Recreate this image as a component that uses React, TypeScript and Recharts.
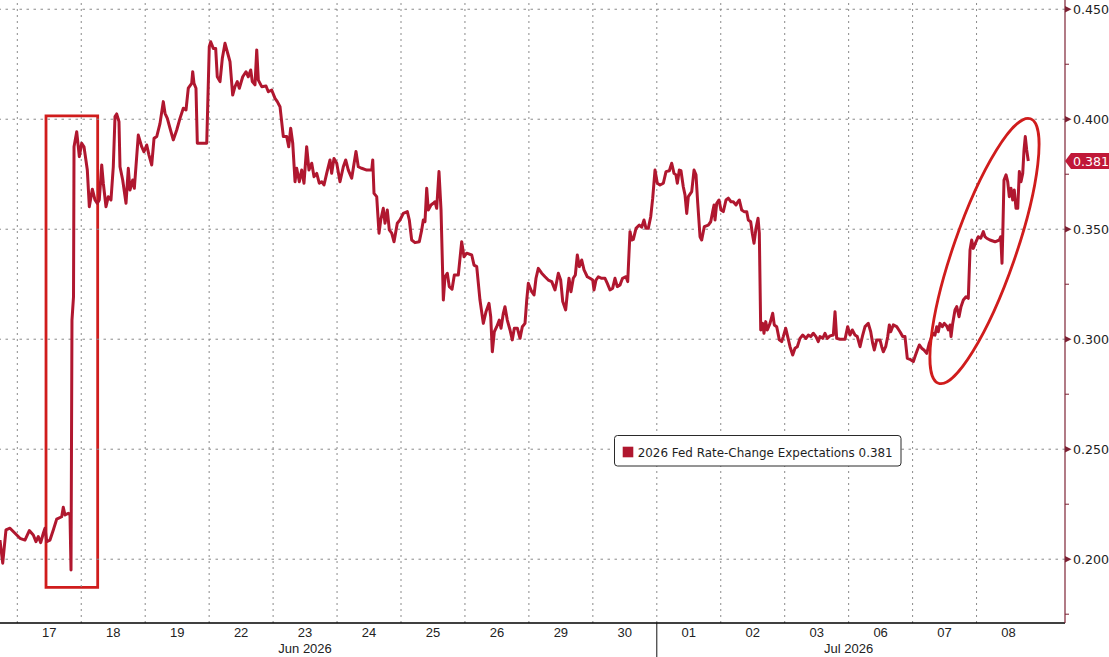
import React from 'react';
import {
  LineChart,
  Line,
  XAxis,
  YAxis,
  ReferenceLine,
  ReferenceArea,
  ReferenceDot,
  Legend,
} from 'recharts';

// ---------- categories / tick labels ----------
const dayLabels = ['17', '18', '19', '22', '23', '24', '25', '26', '29', '30', '01', '02', '03', '06', '07', '08'];
const monthLabels = ['Jun 2026', 'Jul 2026'];
const monthCenters = [4.5, 13]; // trading-day units
const yMajorTicks = [0.2, 0.25, 0.3, 0.35, 0.4, 0.45];
const yMinorTicks = [0.175, 0.225, 0.275, 0.325, 0.375, 0.425];
const seriesName = '2026 Fed Rate-Change Expectations';

// ---------- series: time in trading days since 17 Jun open ----------
const junTimes = [
  -0.271, -0.228, -0.177, -0.114, -0.036, 0.042, 0.12, 0.188, 0.25, 0.292, 0.328, 0.366, 0.407, 0.433, 0.46, 0.511,
  0.563, 0.616, 0.694, 0.719, 0.746, 0.798, 0.824, 0.84, 0.855, 0.879, 0.887, 0.929, 0.97, 1.007, 1.043, 1.095,
  1.126, 1.173, 1.215, 1.251, 1.282, 1.32, 1.345, 1.387, 1.423, 1.465, 1.501, 1.528, 1.554, 1.59, 1.606, 1.648,
  1.7, 1.736, 1.762, 1.805, 1.83, 1.892, 1.945, 1.981, 2.024, 2.059, 2.102, 2.138, 2.18, 2.231, 2.283, 2.31,
  2.346, 2.388, 2.439, 2.493, 2.544, 2.596, 2.638, 2.674, 2.727, 2.743, 2.763, 2.794, 2.815, 2.962, 3.002, 3.024,
  3.065, 3.102, 3.127, 3.17, 3.206, 3.248, 3.29, 3.326, 3.368, 3.404, 3.44, 3.472, 3.525, 3.576, 3.612, 3.65,
  3.675, 3.717, 3.744, 3.769, 3.822, 3.889, 3.925, 3.978, 4.03, 4.066, 4.108, 4.16, 4.213, 4.244, 4.275, 4.307,
  4.343, 4.369, 4.41, 4.447, 4.483, 4.525, 4.561, 4.604, 4.64, 4.682, 4.722, 4.76, 4.796, 4.838, 4.89, 4.916,
  4.952, 4.995, 5.046, 5.098, 5.135, 5.176, 5.229, 5.296, 5.332, 5.386, 5.464, 5.542, 5.558, 5.578, 5.62, 5.656,
  5.683, 5.723, 5.75, 5.786, 5.817, 5.855, 5.891, 5.942, 5.984, 6.036, 6.099, 6.13, 6.167, 6.219, 6.286, 6.324,
  6.349, 6.375, 6.402, 6.427, 6.469, 6.505, 6.532, 6.558, 6.594, 6.626, 6.662, 6.688, 6.724, 6.755, 6.798, 6.834,
  6.896, 6.949, 6.985, 7.027, 7.106, 7.142, 7.184, 7.235, 7.287, 7.329, 7.376, 7.403, 7.428, 7.459, 7.497, 7.537,
  7.564, 7.6, 7.626, 7.662, 7.705, 7.74, 7.772, 7.819, 7.861, 7.897, 7.939, 7.966, 7.991, 8.044, 8.08, 8.111,
  8.147, 8.2, 8.252, 8.303, 8.357, 8.408, 8.435, 8.46, 8.497, 8.529, 8.575, 8.601, 8.627, 8.658, 8.694, 8.726,
  8.757, 8.788, 8.826, 8.862, 8.913, 8.955, 8.998, 9.018, 9.049, 9.085, 9.138, 9.19, 9.226, 9.268, 9.31, 9.346,
  9.382, 9.425, 9.464, 9.518, 9.545, 9.581, 9.608, 9.633, 9.675, 9.726, 9.764, 9.8, 9.831, 9.867, 9.905, 9.936,
  9.972,
];
const junValues = [
  0.2087, 0.1982, 0.2133, 0.2141, 0.2118, 0.2095, 0.2087, 0.213, 0.211, 0.208, 0.2103, 0.2075, 0.2118, 0.2141, 0.208, 0.2087,
  0.2133, 0.2182, 0.2193, 0.2236, 0.2201, 0.2209, 0.2201, 0.1951, 0.3087, 0.3193, 0.3875, 0.3943, 0.383, 0.3891, 0.3875, 0.3769,
  0.3602, 0.3682, 0.3633, 0.3618, 0.3633, 0.3792, 0.3709, 0.3602, 0.3648, 0.3633, 0.3784, 0.4012, 0.4024, 0.3989, 0.3784, 0.3724,
  0.3618, 0.3777, 0.3678, 0.3724, 0.3686, 0.3928, 0.3875, 0.3852, 0.3883, 0.3837, 0.3792, 0.3913, 0.3921, 0.398, 0.408, 0.4027,
  0.4004, 0.3959, 0.3906, 0.3951, 0.4004, 0.405, 0.4042, 0.4141, 0.4163, 0.4216, 0.4163, 0.4141, 0.3891, 0.3891, 0.433, 0.4352,
  0.4322, 0.4322, 0.4193, 0.4171, 0.4277, 0.4345, 0.43, 0.4262, 0.411, 0.4148, 0.4171, 0.4141, 0.4193, 0.4216, 0.4193, 0.4224,
  0.4171, 0.4156, 0.4315, 0.4178, 0.4148, 0.4151, 0.4125, 0.4133, 0.4095, 0.408, 0.4057, 0.3921, 0.3921, 0.3875, 0.3959, 0.3891,
  0.3716, 0.3777, 0.3716, 0.3769, 0.3709, 0.3875, 0.3769, 0.38, 0.3739, 0.3754, 0.3709, 0.3716, 0.3701, 0.3754, 0.3815, 0.3754,
  0.3822, 0.38, 0.3716, 0.3784, 0.3815, 0.3769, 0.3732, 0.3853, 0.3784, 0.3777, 0.3769, 0.3769, 0.3815, 0.3663, 0.3648, 0.3482,
  0.3542, 0.3595, 0.3527, 0.3587, 0.3497, 0.3482, 0.3443, 0.3527, 0.3542, 0.3572, 0.358, 0.3542, 0.3451, 0.3439, 0.3443, 0.3497,
  0.3542, 0.3534, 0.3686, 0.3587, 0.361, 0.3618, 0.3625, 0.3595, 0.3762, 0.3587, 0.3178, 0.3284, 0.33, 0.3239, 0.3227, 0.3292,
  0.3292, 0.3443, 0.3375, 0.3391, 0.3383, 0.3337, 0.333, 0.3178, 0.3072, 0.3125, 0.3163, 0.3102, 0.2943, 0.3034, 0.3057, 0.3087,
  0.305, 0.3118, 0.3148, 0.3087, 0.3042, 0.2997, 0.305, 0.305, 0.3004, 0.3057, 0.3072, 0.3178, 0.3254, 0.3216, 0.3201, 0.3277,
  0.3322, 0.33, 0.3284, 0.3269, 0.3262, 0.3224, 0.3262, 0.33, 0.3269, 0.3171, 0.3133, 0.3209, 0.3277, 0.3216, 0.3277, 0.3292,
  0.3383, 0.333, 0.336, 0.3315, 0.3284, 0.3277, 0.3269, 0.3224, 0.3269, 0.3284, 0.3277, 0.3277, 0.3254, 0.3224, 0.3232, 0.3277,
  0.3239, 0.3247, 0.3277, 0.3284, 0.3262, 0.3489, 0.3451, 0.3454, 0.3504, 0.3519, 0.3509, 0.3542, 0.3504, 0.3504, 0.3557, 0.3641,
  0.3769,
];
const julTimes = [
  10.008, 10.05, 10.102, 10.144, 10.196, 10.233, 10.269, 10.3, 10.321, 10.352, 10.378, 10.414, 10.441, 10.468, 10.493, 10.546,
  10.582, 10.613, 10.64, 10.676, 10.702, 10.743, 10.805, 10.843, 10.874, 10.895, 10.91, 10.937, 10.973, 11.004, 11.04, 11.082,
  11.118, 11.16, 11.196, 11.239, 11.259, 11.29, 11.328, 11.364, 11.406, 11.431, 11.468, 11.493, 11.52, 11.551, 11.583, 11.603,
  11.625, 11.656, 11.676, 11.703, 11.728, 11.77, 11.812, 11.837, 11.875, 11.916, 11.953, 11.978, 12.016, 12.041, 12.083, 12.125,
  12.161, 12.197, 12.239, 12.282, 12.333, 12.369, 12.407, 12.447, 12.489, 12.525, 12.552, 12.594, 12.63, 12.666, 12.708, 12.76,
  12.787, 12.813, 12.865, 12.943, 12.985, 13.021, 13.057, 13.099, 13.135, 13.178, 13.22, 13.256, 13.307, 13.345, 13.376, 13.401,
  13.439, 13.49, 13.517, 13.542, 13.579, 13.611, 13.636, 13.658, 13.698, 13.751, 13.803, 13.845, 13.881, 13.917, 13.959, 14.011,
  14.038, 14.074, 14.105, 14.142, 14.178, 14.221, 14.261, 14.299, 14.324, 14.35, 14.377, 14.402, 14.428, 14.464, 14.496, 14.533,
  14.558, 14.585, 14.601, 14.627, 14.663, 14.69, 14.726, 14.757, 14.793, 14.835, 14.871, 14.898, 14.924, 14.949, 14.991, 15.027,
  15.065, 15.106, 15.132, 15.159, 15.21, 15.289, 15.356, 15.378, 15.398, 15.409, 15.429, 15.461, 15.487, 15.512, 15.539, 15.565,
  15.59, 15.617, 15.644, 15.669, 15.695, 15.722, 15.742, 15.762, 15.784, 15.809,
];
const julValues = [
  0.3709, 0.3701, 0.3709, 0.3762, 0.3766, 0.38, 0.3754, 0.3747, 0.3709, 0.3769, 0.3766, 0.3693, 0.3656, 0.3572, 0.3648, 0.3671,
  0.3769, 0.3747, 0.3618, 0.3466, 0.3451, 0.3512, 0.3519, 0.3534, 0.358, 0.361, 0.3542, 0.3618, 0.3633, 0.3587, 0.358, 0.3633,
  0.3641, 0.3625, 0.3625, 0.361, 0.3621, 0.3633, 0.3587, 0.358, 0.358, 0.3542, 0.3534, 0.3482, 0.3436, 0.3504, 0.355, 0.3482,
  0.3042, 0.3072, 0.3027, 0.308, 0.3042, 0.3072, 0.3118, 0.3065, 0.3057, 0.2997, 0.2989, 0.3012, 0.305, 0.3019, 0.2966, 0.2928,
  0.2959, 0.2966, 0.3004, 0.3019, 0.3004, 0.3019, 0.3012, 0.3027, 0.3012, 0.2989, 0.3012, 0.3004, 0.3027, 0.3004, 0.3015, 0.3019,
  0.3125, 0.3004, 0.3, 0.3, 0.3057, 0.3019, 0.3042, 0.3019, 0.3012, 0.2966, 0.3019, 0.3057, 0.3072, 0.3034, 0.2981, 0.2951,
  0.2997, 0.2997, 0.2966, 0.2943, 0.2966, 0.3012, 0.3065, 0.3034, 0.3065, 0.3057, 0.3034, 0.3012, 0.3012, 0.2913, 0.2909, 0.2898,
  0.2921, 0.2951, 0.2974, 0.2959, 0.2951, 0.2936, 0.2982, 0.3012, 0.3027, 0.3019, 0.3057, 0.3034, 0.3072, 0.3057, 0.3072, 0.306,
  0.3042, 0.3065, 0.3012, 0.3072, 0.3133, 0.3148, 0.3102, 0.3148, 0.3178, 0.3193, 0.3186, 0.3406, 0.3451, 0.3413, 0.3443, 0.3466,
  0.3459, 0.3489, 0.3466, 0.3459, 0.3451, 0.3443, 0.3451, 0.3466, 0.3345, 0.3466, 0.3724, 0.3747, 0.3716, 0.3648, 0.3686, 0.3633,
  0.3678, 0.3595, 0.3595, 0.3762, 0.3716, 0.3754, 0.386, 0.3921, 0.386, 0.381,
];

// annotations (data units)
const boxHighlight = { t1: 0.449, t2: 1.257, v1: 0.1872, v2: 0.4015 };
const ellipseCenter = { t: 15.124, v: 0.3401 };

// ---------- derived ----------
const data = [
  ...junTimes.map((t, i) => ({ t, v: junValues[i] })),
  ...julTimes.map((t, i) => ({ t, v: julValues[i] })),
];
const lastValue = julValues[julValues.length - 1];
const dayCenters = dayLabels.map((_, i) => i + 0.5);
const dayBoundaries = dayLabels.map((_, i) => i);
const monthSeparator = dayLabels.indexOf('01');
const yTicks = [...yMajorTicks, ...yMinorTicks, lastValue].sort((a, b) => a - b);

const X_DOMAIN: [number, number] = [-0.2705, 16.383];
const Y_DOMAIN: [number, number] = [0.171, 0.4542];

const LINE = '#b0172f';
const ANNOT = '#d01c1c';
const AXIS_RED = '#7d2234';
const TAG = '#c01838';
const GRID = '#8a8a8a';
const FONT = "'DejaVu Sans', Verdana, sans-serif";
const XFONT = "'Liberation Sans', Arial, sans-serif";

function DayTick(props: any) {
  const { x, y, payload } = props;
  const v = payload.value;
  if (v === monthSeparator) {
    return <line x1={x} x2={x} y1={y} y2={y + 40} stroke="#111" strokeWidth={1} />;
  }
  return (
    <text x={x} y={y + 5} dy="0.71em" textAnchor="middle" fontFamily={XFONT} fontSize={13} fill="#222">
      {dayLabels[Math.floor(v)]}
    </text>
  );
}

function MonthTick(props: any) {
  const { x, y, payload } = props;
  const idx = monthCenters.indexOf(payload.value);
  return (
    <text x={x} y={y + 4} dy="0.71em" textAnchor="middle" fontFamily={XFONT} fontSize={13} fill="#222">
      {monthLabels[idx]}
    </text>
  );
}

function YTick(props: any) {
  const { x, y, payload } = props;
  const v = payload.value;
  if (v === lastValue) {
    return (
      <g>
        <polygon
          points={`${x},${y} ${x + 6},${y - 8} ${x + 50},${y - 8} ${x + 50},${y + 8} ${x + 6},${y + 8}`}
          fill={TAG}
        />
        <text x={x + 8} y={y} dominantBaseline="central" fontFamily={FONT} fontSize={12.6} fill="#fff">
          {v.toFixed(3)}
        </text>
      </g>
    );
  }
  if (yMinorTicks.includes(v)) {
    return <line x1={x} x2={x + 4} y1={y} y2={y} stroke={AXIS_RED} strokeWidth={1} />;
  }
  return (
    <g>
      <polygon points={`${x},${y - 3.2} ${x + 6.5},${y} ${x},${y + 3.2}`} fill={AXIS_RED} />
      <text x={x + 8} y={y} dominantBaseline="central" fontFamily={FONT} fontSize={12.6} fill="#222">
        {v.toFixed(3)}
      </text>
    </g>
  );
}

function LegendBox() {
  return (
    <svg width={290} height={34} style={{ display: 'block', overflow: 'visible' }}>
      <rect x={0.5} y={0.5} width={286.5} height={30.5} rx={3} ry={3} fill="#fff" stroke="#2a2a2a" strokeWidth={1} />
      <rect x={8.7} y={11.7} width={10.6} height={10.6} fill={LINE} />
      <text
        x={23.7}
        y={21.6}
        fontFamily={FONT}
        fontSize={12.2}
        fill="#1e1e1e"
        textLength={255}
        lengthAdjust="spacingAndGlyphs"
      >
        {`${seriesName} ${lastValue.toFixed(3)}`}
      </text>
    </svg>
  );
}

function EllipseShape(p: any) {
  const { cx, cy } = p;
  return (
    <ellipse
      cx={cx}
      cy={cy}
      rx={31}
      ry={140}
      transform={`rotate(19.2 ${cx} ${cy})`}
      fill="none"
      stroke={ANNOT}
      strokeWidth={2.8}
    />
  );
}

export default function App() {
  return (
    <div style={{ position: 'absolute', left: 0, top: 0, width: 1109, height: 657, background: '#fff' }}>
      <LineChart width={1109} height={657} data={data} margin={{ top: 0, right: 0, bottom: 0, left: 0 }}>
        <XAxis
          dataKey="t"
          type="number"
          domain={X_DOMAIN}
          allowDataOverflow
          ticks={[...dayCenters, monthSeparator]}
          interval={0}
          height={17}
          tickSize={0}
          tickMargin={0}
          tickLine={false}
          axisLine={{ stroke: '#000', strokeWidth: 1.5 }}
          tick={<DayTick />}
        />
        <XAxis
          xAxisId="month"
          dataKey="t"
          type="number"
          domain={X_DOMAIN}
          allowDataOverflow
          ticks={monthCenters}
          interval={0}
          height={17}
          tickSize={0}
          tickMargin={0}
          tickLine={false}
          axisLine={false}
          tick={<MonthTick />}
        />
        <YAxis
          orientation="right"
          type="number"
          domain={Y_DOMAIN}
          allowDataOverflow
          ticks={yTicks}
          interval={0}
          width={44}
          tickSize={0}
          tickMargin={0}
          tickLine={false}
          axisLine={{ stroke: AXIS_RED, strokeWidth: 1.2 }}
          tick={<YTick />}
        />
        {dayBoundaries.map((b) => (
          <ReferenceLine key={`vx${b}`} x={b} stroke={GRID} strokeDasharray="2 4" strokeWidth={1} />
        ))}
        {yMajorTicks.map((b) => (
          <ReferenceLine key={`hy${b}`} y={b} stroke={GRID} strokeDasharray="2.5 4.5" strokeWidth={1} />
        ))}
        <Line
          type="linear"
          dataKey="v"
          name={seriesName}
          stroke={LINE}
          strokeWidth={3}
          strokeLinejoin="round"
          dot={false}
          isAnimationActive={false}
        />
        <ReferenceArea
          x1={boxHighlight.t1}
          x2={boxHighlight.t2}
          y1={boxHighlight.v1}
          y2={boxHighlight.v2}
          fill="none"
          stroke={ANNOT}
          strokeWidth={2.8}
          ifOverflow="visible"
        />
        <ReferenceDot x={ellipseCenter.t} y={ellipseCenter.v} r={1} ifOverflow="visible" shape={EllipseShape} />
        <Legend
          layout="horizontal"
          verticalAlign="middle"
          align="center"
          wrapperStyle={{ left: 614, top: 435, width: 290, height: 34 }}
          content={() => <LegendBox />}
        />
      </LineChart>
    </div>
  );
}
